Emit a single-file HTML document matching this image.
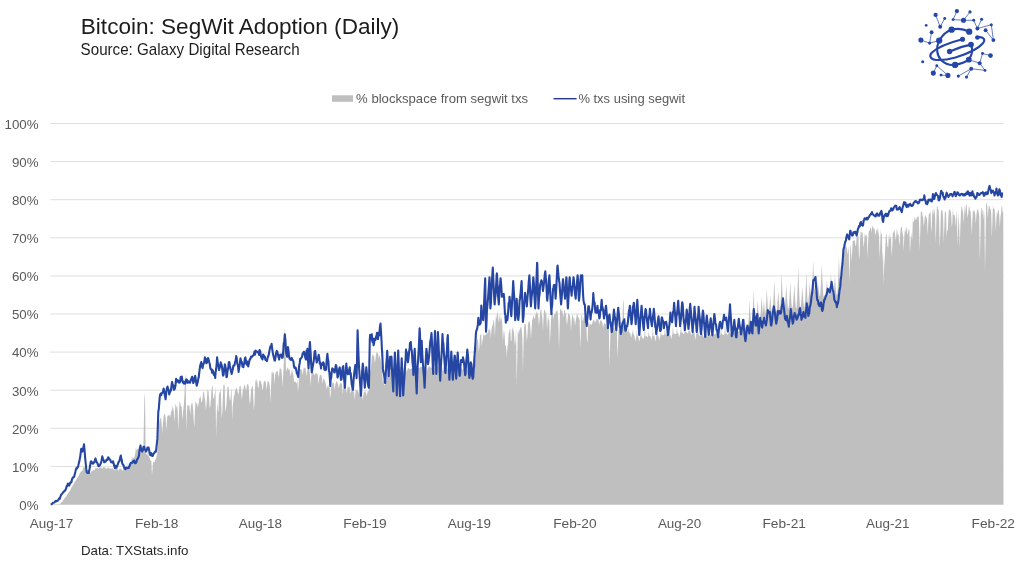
<!DOCTYPE html>
<html><head><meta charset="utf-8"><title>Bitcoin: SegWit Adoption (Daily)</title>
<style>
html,body{margin:0;padding:0;background:#fff;}
body{width:1024px;height:565px;overflow:hidden;}
svg{display:block;will-change:transform;font-family:"Liberation Sans",sans-serif;}
.ax text{font-size:13.3px;fill:#595959;}
.grid line{stroke:#dedede;stroke-width:1;}
</style></head><body>
<svg width="1024" height="565" viewBox="0 0 1024 565">
<rect width="1024" height="565" fill="#fff"/>
<text x="80.8" y="34.4" font-size="21.3" fill="#1c1c1c" textLength="318.5" lengthAdjust="spacingAndGlyphs">Bitcoin: SegWit Adoption (Daily)</text>
<text x="80.6" y="55.1" font-size="16.4" fill="#1c1c1c" textLength="219" lengthAdjust="spacingAndGlyphs">Source: Galaxy Digital Research</text>
<g class="logo"><polyline points="935.6,14.9 940.2,26.8 944.7,18.5" fill="none" stroke="#2545a8" stroke-width="0.7"/><polyline points="931.6,32.2 929.6,43.1" fill="none" stroke="#2545a8" stroke-width="0.7"/><polyline points="920.9,40.1 929.6,43.1 939.2,40.6" fill="none" stroke="#2545a8" stroke-width="0.7"/><polyline points="956.9,11.1 953.1,19.6 963.5,20.3 970,11.9" fill="none" stroke="#2545a8" stroke-width="0.7"/><polyline points="963.5,20.3 973.7,20.3 977.4,28.5 981.6,19.3" fill="none" stroke="#2545a8" stroke-width="0.7"/><polyline points="977.4,28.5 991.3,24.8 993.4,40.1 985.6,30.2" fill="none" stroke="#2545a8" stroke-width="0.7"/><polyline points="936.8,65.7 933.3,73.1" fill="none" stroke="#2545a8" stroke-width="0.7"/><polyline points="936.8,65.7 947.9,75.4 941,75.1" fill="none" stroke="#2545a8" stroke-width="0.7"/><polyline points="958.3,76.1 971.2,68.7 966.5,77.1" fill="none" stroke="#2545a8" stroke-width="0.7"/><polyline points="971.2,68.7 985,70.4 979.7,63.2 982.5,53.5 990.5,55.6" fill="none" stroke="#2545a8" stroke-width="0.7"/><polyline points="968.8,59.7 979.7,63.2" fill="none" stroke="#2545a8" stroke-width="0.7"/><g fill="none" stroke="#2545a8" stroke-width="2.1" stroke-linecap="round"><path d="M939.2,40.6 C943,34 947,31 951.6,29.7 C958,28 964,29 969.2,31.7"/><path d="M939.2,40.6 C936,47 936.5,55 941,60 C945,64 950,65.5 955.1,64.9 C960,64 965,62.5 968.8,59.7 C972,55 973,49 971,44.6"/><path d="M962.5,39.3 C950,42.5 938,47 932,52.5 C928.5,56 930.5,59.5 937,60 C948,60.5 963,56 974,50 C982,45.5 986,41 983.5,38.5 C982,37 979.5,37 977.4,37.5"/><path d="M949.6,51.5 C956,48.5 964,45.8 971,44.6"/></g><circle cx="935.6" cy="14.9" r="2.15" fill="#2545a8"/><circle cx="944.7" cy="18.5" r="1.45" fill="#2545a8"/><circle cx="940.2" cy="26.8" r="1.95" fill="#2545a8"/><circle cx="926.2" cy="25.3" r="1.35" fill="#2545a8"/><circle cx="931.6" cy="32.2" r="1.95" fill="#2545a8"/><circle cx="920.9" cy="40.1" r="2.55" fill="#2545a8"/><circle cx="929.6" cy="43.1" r="1.55" fill="#2545a8"/><circle cx="956.9" cy="11.1" r="2.15" fill="#2545a8"/><circle cx="953.1" cy="19.6" r="1.45" fill="#2545a8"/><circle cx="963.5" cy="20.3" r="2.55" fill="#2545a8"/><circle cx="970" cy="11.9" r="1.65" fill="#2545a8"/><circle cx="973.7" cy="20.3" r="1.45" fill="#2545a8"/><circle cx="981.6" cy="19.3" r="1.55" fill="#2545a8"/><circle cx="977.4" cy="28.5" r="1.95" fill="#2545a8"/><circle cx="991.3" cy="24.8" r="1.55" fill="#2545a8"/><circle cx="985.6" cy="30.2" r="1.95" fill="#2545a8"/><circle cx="993.4" cy="40.1" r="1.95" fill="#2545a8"/><circle cx="982.5" cy="53.5" r="1.45" fill="#2545a8"/><circle cx="990.5" cy="55.6" r="2.35" fill="#2545a8"/><circle cx="922.7" cy="61.7" r="1.55" fill="#2545a8"/><circle cx="936.8" cy="65.7" r="1.45" fill="#2545a8"/><circle cx="933.3" cy="73.1" r="2.55" fill="#2545a8"/><circle cx="941" cy="75.1" r="1.45" fill="#2545a8"/><circle cx="947.9" cy="75.4" r="2.55" fill="#2545a8"/><circle cx="958.3" cy="76.1" r="1.55" fill="#2545a8"/><circle cx="966.5" cy="77.1" r="1.55" fill="#2545a8"/><circle cx="971.2" cy="68.7" r="1.95" fill="#2545a8"/><circle cx="985" cy="70.4" r="1.45" fill="#2545a8"/><circle cx="979.7" cy="63.2" r="1.95" fill="#2545a8"/><circle cx="951.6" cy="29.7" r="3.15" fill="#2545a8"/><circle cx="969.2" cy="31.7" r="3.15" fill="#2545a8"/><circle cx="939.2" cy="40.6" r="3.15" fill="#2545a8"/><circle cx="962.5" cy="39.3" r="2.55" fill="#2545a8"/><circle cx="977.4" cy="37.5" r="2.35" fill="#2545a8"/><circle cx="971" cy="44.6" r="2.85" fill="#2545a8"/><circle cx="949.6" cy="51.5" r="2.65" fill="#2545a8"/><circle cx="955.1" cy="64.9" r="3.15" fill="#2545a8"/><circle cx="968.8" cy="59.7" r="2.85" fill="#2545a8"/></g>
<g class="ax">
<rect x="332" y="95.3" width="21" height="6.5" fill="#bfbfbf"/>
<text x="356.1" y="103.2" textLength="172" lengthAdjust="spacingAndGlyphs">% blockspace from segwit txs</text>
<line x1="553.5" x2="576.6" y1="98.7" y2="98.7" stroke="#2a3f8c" stroke-width="1.5"/>
<text x="578.4" y="103.2" textLength="106.6" lengthAdjust="spacingAndGlyphs">% txs using segwit</text>
</g>
<g class="grid"><line x1="50.5" x2="1003.5" y1="504.50" y2="504.50"/><line x1="50.5" x2="1003.5" y1="466.40" y2="466.40"/><line x1="50.5" x2="1003.5" y1="428.30" y2="428.30"/><line x1="50.5" x2="1003.5" y1="390.20" y2="390.20"/><line x1="50.5" x2="1003.5" y1="352.10" y2="352.10"/><line x1="50.5" x2="1003.5" y1="314.00" y2="314.00"/><line x1="50.5" x2="1003.5" y1="275.90" y2="275.90"/><line x1="50.5" x2="1003.5" y1="237.80" y2="237.80"/><line x1="50.5" x2="1003.5" y1="199.70" y2="199.70"/><line x1="50.5" x2="1003.5" y1="161.60" y2="161.60"/><line x1="50.5" x2="1003.5" y1="123.50" y2="123.50"/></g>
<path d="M50.5,504.5 L51.20,504.5 51.77,504.5 52.35,504.5 52.92,504.5 53.49,504.5 54.06,504.5 54.64,504.5 55.21,504.5 55.78,504.5 56.35,504.5 56.93,504.5 57.50,504.5 58.07,504.5 58.64,504.5 59.22,504.5 59.79,504.1 60.36,503.5 60.93,502.8 61.51,502.2 62.08,502.0 62.65,501.1 63.22,500.0 63.80,499.4 64.37,498.5 64.94,497.8 65.51,497.1 66.09,496.7 66.66,495.5 67.23,494.6 67.80,493.7 68.38,492.8 68.95,492.0 69.52,491.4 70.09,490.7 70.67,489.3 71.24,488.0 71.81,486.9 72.38,485.9 72.95,485.0 73.53,484.1 74.10,483.3 74.67,482.2 75.25,481.1 75.82,480.4 76.39,479.2 76.96,478.4 77.53,477.5 78.11,477.0 78.68,475.7 79.25,474.3 79.83,473.4 80.40,472.3 80.97,471.4 81.54,471.1 82.12,471.5 82.69,469.6 83.26,467.4 83.83,466.3 84.41,467.0 84.98,468.1 85.55,468.8 86.12,471.0 86.69,471.0 87.27,470.2 87.84,470.5 88.41,471.0 88.99,471.3 89.56,471.7 90.13,472.9 90.70,472.5 91.28,471.6 91.85,471.2 92.42,470.8 92.99,470.1 93.56,469.9 94.14,470.8 94.71,469.6 95.28,468.6 95.86,468.3 96.43,468.3 97.00,468.1 97.57,468.1 98.15,469.1 98.72,468.5 99.29,467.6 99.86,467.2 100.44,467.5 101.01,467.3 101.58,467.9 102.15,468.7 102.72,467.6 103.30,467.3 103.87,467.4 104.44,467.3 105.02,467.5 105.59,467.8 106.16,469.5 106.73,468.5 107.31,467.9 107.88,467.6 108.45,467.7 109.02,467.8 109.59,468.4 110.17,469.0 110.74,468.5 111.31,468.1 111.89,468.7 112.46,468.2 113.03,468.5 113.60,469.4 114.18,470.4 114.75,469.6 115.32,468.7 115.89,468.8 116.47,468.5 117.04,468.5 117.61,469.2 118.18,471.2 118.76,469.7 119.33,468.9 119.90,468.7 120.47,468.6 121.05,468.9 121.62,469.2 122.19,471.3 122.76,470.0 123.34,468.8 123.91,465.3 124.48,468.6 125.05,468.6 125.62,469.4 126.20,470.0 126.77,469.0 127.34,468.7 127.92,462.0 128.49,467.0 129.06,466.4 129.63,465.9 130.20,466.2 130.78,464.3 131.35,462.2 131.92,455.4 132.50,459.5 133.07,458.3 133.64,457.5 134.21,457.7 134.79,455.3 135.36,453.1 135.93,447.2 136.50,450.8 137.07,449.2 137.65,449.0 138.22,448.7 138.79,448.3 139.37,448.4 139.94,441.4 140.51,447.4 141.08,447.3 141.66,448.9 142.23,451.8 142.80,450.6 143.37,450.1 143.94,420.3 144.52,391.5 145.09,400.5 145.66,452.6 146.24,454.3 146.81,454.4 147.38,455.5 147.95,450.3 148.53,456.1 149.10,457.1 149.67,458.1 150.24,460.0 150.81,460.4 151.39,461.2 151.96,475.0 152.53,469.1 153.11,461.5 153.68,462.1 154.25,462.8 154.82,461.0 155.40,459.4 155.97,458.5 156.54,456.6 157.11,453.0 157.69,448.0 158.26,440.5 158.83,427.4 159.40,421.5 159.98,419.3 160.55,418.0 161.12,418.1 161.69,424.1 162.26,433.8 162.84,423.4 163.41,419.1 163.98,414.1 164.56,414.3 165.13,414.9 165.70,418.0 166.27,430.7 166.84,422.0 167.42,415.6 167.99,416.1 168.56,415.1 169.13,416.1 169.71,414.3 170.28,417.4 170.85,413.3 171.43,410.4 172.00,410.7 172.57,405.6 173.14,408.4 173.72,410.0 174.29,422.1 174.86,412.7 175.43,404.3 176.00,404.1 176.58,408.5 177.15,404.9 177.72,410.7 178.30,431.5 178.87,415.6 179.44,401.5 180.01,402.1 180.58,404.5 181.16,406.9 181.73,406.7 182.30,420.0 182.88,413.7 183.45,408.5 184.02,402.5 184.59,391.5 185.17,373.6 185.74,378.8 186.31,431.4 186.88,413.4 187.45,404.4 188.03,405.5 188.60,405.8 189.17,404.5 189.75,409.2 190.32,415.1 190.89,406.4 191.46,404.0 192.04,401.9 192.61,404.4 193.18,409.9 193.75,420.2 194.32,427.6 194.90,410.7 195.47,402.3 196.04,401.0 196.62,404.2 197.19,402.9 197.76,407.5 198.33,405.1 198.91,401.7 199.48,397.2 200.05,398.6 200.62,395.4 201.19,401.7 201.77,402.5 202.34,400.4 202.91,394.2 203.49,391.3 204.06,392.6 204.63,397.7 205.20,399.6 205.77,409.9 206.35,406.1 206.92,399.2 207.49,389.8 208.06,389.5 208.64,392.4 209.21,400.7 209.78,408.6 210.36,406.0 210.93,398.6 211.50,390.5 212.07,385.5 212.64,386.5 213.22,397.8 213.79,399.1 214.36,395.5 214.94,392.9 215.51,386.3 216.08,437.0 216.65,417.0 217.23,401.9 217.80,410.1 218.37,412.2 218.94,395.2 219.51,392.2 220.09,391.7 220.66,388.3 221.23,403.4 221.81,418.9 222.38,411.6 222.95,393.3 223.52,384.7 224.10,384.4 224.67,385.8 225.24,412.0 225.81,408.8 226.38,405.0 226.96,396.0 227.53,386.5 228.10,386.4 228.68,387.5 229.25,395.6 229.82,400.0 230.39,400.6 230.97,391.9 231.54,387.4 232.11,420.0 232.68,405.9 233.25,402.1 233.83,396.2 234.40,395.4 234.97,390.8 235.55,390.2 236.12,387.9 236.69,387.7 237.26,390.0 237.83,392.4 238.41,394.8 238.98,391.4 239.55,386.0 240.12,385.9 240.70,386.4 241.27,392.6 241.84,399.4 242.42,394.9 242.99,387.2 243.56,390.1 244.13,383.9 244.70,385.4 245.28,386.6 245.85,389.8 246.42,389.6 247.00,384.3 247.57,384.3 248.14,384.3 248.71,386.6 249.29,397.5 249.86,405.2 250.43,400.1 251.00,390.8 251.57,387.4 252.15,385.8 252.72,386.5 253.29,396.7 253.87,410.5 254.44,403.7 255.01,388.0 255.58,379.3 256.16,381.9 256.73,379.0 257.30,381.3 257.87,387.0 258.44,388.6 259.02,382.8 259.59,379.9 260.16,380.7 260.74,380.9 261.31,383.2 261.88,384.8 262.45,391.1 263.03,387.7 263.60,382.8 264.17,380.6 264.74,381.4 265.31,380.9 265.89,383.3 266.46,389.8 267.03,386.0 267.61,380.4 268.18,382.7 268.75,380.3 269.32,383.6 269.89,387.6 270.47,403.2 271.04,387.4 271.61,371.2 272.19,374.3 272.76,371.0 273.33,372.3 273.90,373.6 274.48,384.7 275.05,375.5 275.62,372.8 276.19,372.0 276.76,371.6 277.34,370.6 277.91,372.1 278.48,377.2 279.06,374.9 279.63,368.2 280.20,369.5 280.77,367.5 281.35,369.5 281.92,375.1 282.49,386.4 283.06,376.9 283.63,366.4 284.21,350.9 284.78,327.5 285.35,333.4 285.93,367.5 286.50,372.1 287.07,368.7 287.64,367.1 288.22,368.8 288.79,370.3 289.36,368.6 289.93,371.4 290.50,375.9 291.08,373.9 291.65,369.9 292.22,370.1 292.80,373.2 293.37,374.5 293.94,381.6 294.51,382.1 295.08,382.1 295.66,381.0 296.23,383.5 296.80,382.8 297.38,379.5 297.95,392.0 298.52,386.0 299.09,373.6 299.67,370.8 300.24,369.3 300.81,369.1 301.38,368.9 301.95,370.3 302.53,375.4 303.10,371.3 303.67,367.5 304.25,368.6 304.82,367.4 305.39,367.8 305.96,371.5 306.54,376.4 307.11,371.1 307.68,369.2 308.25,370.1 308.82,369.2 309.40,369.8 309.97,374.5 310.54,385.9 311.12,377.2 311.69,371.9 312.26,370.4 312.83,370.9 313.40,372.9 313.98,374.8 314.55,374.7 315.12,374.6 315.69,372.5 316.27,373.1 316.84,374.4 317.41,373.2 317.99,376.9 318.56,384.6 319.13,378.4 319.70,374.9 320.27,375.0 320.85,375.0 321.42,375.0 321.99,378.3 322.56,383.4 323.14,380.3 323.71,378.3 324.28,379.3 324.86,380.7 325.43,382.6 326.00,384.7 326.57,389.6 327.14,386.8 327.72,385.8 328.29,387.9 328.86,384.8 329.44,384.6 330.01,398.0 330.58,395.2 331.15,386.6 331.72,385.4 332.30,383.6 332.87,382.1 333.44,382.8 334.01,383.8 334.59,390.8 335.16,385.0 335.73,383.0 336.31,382.0 336.88,380.6 337.45,382.3 338.02,383.8 338.59,388.1 339.17,386.8 339.74,383.3 340.31,383.4 340.88,382.8 341.46,383.2 342.03,385.3 342.60,394.7 343.18,388.3 343.75,385.3 344.32,384.1 344.89,383.8 345.46,384.6 346.04,389.0 346.61,393.0 347.18,390.8 347.75,385.4 348.33,387.2 348.90,387.3 349.47,386.5 350.05,390.2 350.62,393.8 351.19,390.6 351.76,391.4 352.33,387.6 352.91,387.7 353.48,391.3 354.05,391.9 354.62,400.0 355.20,394.0 355.77,389.2 356.34,390.3 356.92,390.4 357.49,390.0 358.06,391.0 358.63,392.2 359.20,394.9 359.78,390.7 360.35,392.3 360.92,392.6 361.50,394.4 362.07,393.6 362.64,400.3 363.21,396.6 363.78,392.4 364.36,391.9 364.93,390.9 365.50,390.9 366.07,393.9 366.65,395.9 367.22,393.3 367.79,391.1 368.37,390.9 368.94,391.2 369.51,380.4 370.08,371.5 370.65,369.6 371.23,365.1 371.80,357.2 372.37,355.2 372.94,353.4 373.52,356.2 374.09,355.4 374.66,362.8 375.24,361.1 375.81,355.4 376.38,352.9 376.95,352.3 377.52,352.8 378.10,353.7 378.67,358.5 379.24,355.7 379.81,355.5 380.39,358.8 380.96,361.5 381.53,364.2 382.11,369.6 382.68,382.3 383.25,379.9 383.82,379.7 384.39,385.3 384.97,385.0 385.54,382.3 386.11,381.3 386.69,381.5 387.26,376.2 387.83,373.3 388.40,370.5 388.97,369.8 389.55,367.5 390.12,368.6 390.69,369.2 391.26,368.3 391.84,367.4 392.41,368.4 392.98,367.5 393.56,367.7 394.13,369.0 394.70,372.1 395.27,369.8 395.84,367.1 396.42,368.8 396.99,367.1 397.56,368.0 398.13,367.4 398.71,368.4 399.28,367.6 399.85,367.2 400.43,367.3 401.00,367.5 401.57,368.0 402.14,369.0 402.71,372.0 403.29,370.9 403.86,368.1 404.43,367.5 405.00,367.8 405.58,368.1 406.15,369.3 406.72,372.0 407.30,370.1 407.87,368.0 408.44,367.9 409.01,368.7 409.58,368.8 410.16,368.9 410.73,369.0 411.30,368.4 411.88,368.2 412.45,367.6 413.02,367.5 413.59,367.7 414.17,368.6 414.74,372.6 415.31,369.4 415.88,367.4 416.45,367.6 417.03,367.5 417.60,366.7 418.17,367.6 418.75,368.6 419.32,368.0 419.89,367.5 420.46,366.5 421.03,366.8 421.61,367.2 422.18,366.9 422.75,368.3 423.32,367.5 423.90,367.3 424.47,366.9 425.04,366.1 425.62,366.9 426.19,367.6 426.76,372.4 427.33,369.2 427.90,367.1 428.48,367.4 429.05,366.0 429.62,366.4 430.19,366.9 430.77,368.1 431.34,367.4 431.91,367.4 432.49,366.2 433.06,366.9 433.63,366.3 434.20,368.2 434.77,371.2 435.35,368.5 435.92,366.1 436.49,366.5 437.06,366.8 437.64,366.6 438.21,367.1 438.78,369.7 439.36,367.7 439.93,366.9 440.50,366.1 441.07,366.4 441.64,367.1 442.22,368.1 442.79,372.1 443.36,369.2 443.94,366.3 444.51,367.1 445.08,366.8 445.65,366.6 446.23,369.3 446.80,371.5 447.37,369.6 447.94,367.5 448.51,366.9 449.09,366.5 449.66,366.6 450.23,368.9 450.81,369.2 451.38,368.4 451.95,367.4 452.52,366.7 453.09,367.0 453.67,367.4 454.24,367.4 454.81,369.9 455.38,368.3 455.96,367.0 456.53,367.4 457.10,367.0 457.68,367.8 458.25,367.9 458.82,368.9 459.39,368.9 459.96,367.1 460.54,367.9 461.11,367.7 461.68,369.0 462.25,368.5 462.83,370.7 463.40,368.7 463.97,368.1 464.55,367.8 465.12,368.4 465.69,368.9 466.26,369.3 466.83,371.9 467.41,370.4 467.98,369.2 468.55,368.9 469.12,368.9 469.70,369.1 470.27,371.0 470.84,375.5 471.42,372.5 471.99,369.1 472.56,365.3 473.13,361.1 473.70,358.5 474.28,357.1 474.85,362.1 475.42,355.8 476.00,348.8 476.57,342.7 477.14,340.0 477.71,338.5 478.28,343.3 478.86,351.8 479.43,346.3 480.00,334.7 480.57,335.0 481.15,334.2 481.72,346.6 482.29,341.1 482.87,338.4 483.44,333.4 484.01,334.7 484.58,335.8 485.15,335.1 485.73,334.9 486.30,330.9 486.87,334.5 487.44,332.6 488.02,333.5 488.59,329.1 489.16,328.4 489.74,330.7 490.31,330.0 490.88,338.4 491.45,330.3 492.02,326.3 492.60,325.6 493.17,322.4 493.74,319.3 494.31,323.6 494.89,337.2 495.46,323.3 496.03,313.3 496.61,319.2 497.18,314.3 497.75,311.4 498.32,318.7 498.89,322.8 499.47,316.9 500.04,312.4 500.61,321.8 501.19,317.0 501.76,319.6 502.33,324.8 502.90,341.8 503.48,333.5 504.05,329.8 504.62,334.9 505.19,346.1 505.76,345.0 506.34,349.4 506.91,357.7 507.48,346.4 508.06,343.7 508.63,332.9 509.20,332.2 509.77,328.5 510.34,329.8 510.92,341.5 511.49,340.6 512.06,326.4 512.63,328.9 513.21,332.4 513.78,327.5 514.35,338.8 514.93,345.5 515.50,340.6 516.07,327.6 516.64,384.0 517.22,359.9 517.79,331.5 518.36,330.5 518.93,334.6 519.50,329.7 520.08,328.9 520.65,326.9 521.22,326.0 521.80,330.4 522.37,337.7 522.94,371.6 523.51,344.6 524.09,326.6 524.66,323.4 525.23,324.3 525.80,324.3 526.38,334.3 526.95,342.1 527.52,333.6 528.09,320.8 528.67,323.8 529.24,321.1 529.81,321.6 530.38,328.4 530.96,338.6 531.53,329.8 532.10,320.2 532.67,319.3 533.25,314.8 533.82,317.7 534.39,317.6 534.96,319.8 535.53,314.1 536.11,313.9 536.68,310.9 537.25,312.7 537.83,314.6 538.40,317.6 538.97,326.1 539.54,319.9 540.12,313.3 540.69,308.6 541.26,308.9 541.83,315.3 542.40,318.3 542.98,330.8 543.55,317.2 544.12,309.1 544.70,310.1 545.27,314.2 545.84,310.1 546.41,315.4 546.99,330.1 547.56,321.8 548.13,314.1 548.70,320.4 549.27,319.0 549.85,345.0 550.42,332.7 550.99,319.4 551.57,315.4 552.14,312.2 552.71,312.7 553.28,319.9 553.86,314.9 554.43,314.3 555.00,314.3 555.57,313.1 556.14,311.3 556.72,311.1 557.29,310.0 557.86,313.5 558.44,324.4 559.01,349.8 559.58,327.1 560.15,307.8 560.73,309.5 561.30,311.5 561.87,308.3 562.44,311.8 563.01,314.8 563.59,317.3 564.16,310.3 564.73,309.9 565.31,313.1 565.88,313.5 566.45,319.9 567.02,325.5 567.60,320.0 568.17,313.3 568.74,313.5 569.31,315.8 569.89,313.8 570.46,320.3 571.03,331.4 571.60,321.4 572.18,315.8 572.75,314.1 573.32,319.2 573.89,317.2 574.47,320.2 575.04,325.7 575.61,321.3 576.18,318.8 576.76,313.5 577.33,313.8 577.90,316.9 578.47,317.0 579.05,319.1 579.62,319.2 580.19,348.6 580.76,334.3 581.34,314.3 581.91,314.8 582.48,320.6 583.05,321.0 583.62,318.0 584.20,315.4 584.77,318.2 585.34,319.2 585.92,321.1 586.49,325.9 587.06,342.7 587.63,339.7 588.21,322.2 588.78,321.7 589.35,326.9 589.92,322.0 590.50,324.2 591.07,323.7 591.64,325.4 592.21,323.6 592.79,321.5 593.36,319.1 593.93,321.2 594.50,320.2 595.08,323.3 595.65,321.2 596.22,319.2 596.79,319.2 597.37,318.9 597.94,319.6 598.51,319.9 599.08,325.0 599.66,322.6 600.23,320.7 600.80,319.6 601.37,320.7 601.95,321.7 602.52,322.9 603.09,328.0 603.66,325.3 604.24,322.5 604.81,323.2 605.38,324.4 605.95,324.1 606.53,326.4 607.10,327.7 607.67,327.1 608.24,325.8 608.82,323.6 609.39,366.2 609.96,348.7 610.53,328.0 611.11,331.5 611.68,329.1 612.25,327.6 612.82,323.9 613.40,327.7 613.97,328.0 614.54,328.6 615.11,332.8 615.69,329.7 616.26,328.6 616.83,324.1 617.40,358.4 617.98,345.0 618.55,329.1 619.12,330.9 619.69,329.1 620.27,327.2 620.84,319.8 621.41,327.8 621.98,327.3 622.56,316.1 623.13,299.0 623.70,303.6 624.27,327.4 624.85,324.7 625.42,329.6 625.99,330.4 626.56,331.6 627.14,330.8 627.71,332.1 628.28,331.4 628.85,326.9 629.43,333.4 630.00,332.7 630.57,334.3 631.14,338.1 631.72,335.1 632.29,333.0 632.86,329.3 633.43,334.5 634.01,334.5 634.58,336.5 635.15,341.9 635.72,338.5 636.30,336.4 636.87,329.8 637.44,335.1 638.01,336.5 638.59,337.4 639.16,342.0 639.73,339.2 640.30,336.4 640.88,328.2 641.45,336.4 642.02,336.7 642.59,338.0 643.17,339.6 643.74,337.9 644.31,336.1 644.88,327.3 645.46,336.5 646.03,335.9 646.60,336.1 647.17,337.2 647.75,337.2 648.32,335.2 648.89,330.8 649.46,336.0 650.04,336.3 650.61,336.3 651.18,340.1 651.75,338.1 652.33,335.4 652.90,326.7 653.47,336.3 654.04,335.5 654.62,336.5 655.19,341.7 655.76,338.7 656.33,334.8 656.91,330.9 657.48,335.2 658.05,335.3 658.62,336.3 659.20,340.7 659.77,337.8 660.34,336.2 660.91,329.7 661.49,334.5 662.06,335.6 662.63,334.7 663.20,335.5 663.78,335.1 664.35,334.5 664.92,326.9 665.49,334.6 666.07,334.6 666.64,334.5 667.21,335.2 667.78,334.9 668.36,335.2 668.93,329.7 669.50,334.0 670.07,334.2 670.65,336.1 671.22,339.3 671.79,335.9 672.36,334.2 672.94,325.2 673.51,333.4 674.08,333.9 674.65,333.5 675.23,334.0 675.80,333.9 676.37,334.1 676.94,327.5 677.52,332.9 678.09,333.0 678.66,334.8 679.23,337.3 679.81,334.7 680.38,332.6 680.95,324.5 681.52,332.3 682.10,332.6 682.67,332.6 683.24,333.9 683.81,333.7 684.39,332.9 684.96,322.3 685.53,331.9 686.10,332.2 686.68,332.0 687.25,333.2 687.82,333.2 688.39,332.1 688.97,321.4 689.54,331.2 690.11,331.2 690.68,333.1 691.26,335.0 691.83,334.0 692.40,331.3 692.97,325.8 693.55,332.0 694.12,332.0 694.69,333.7 695.26,340.2 695.84,336.0 696.41,332.7 696.98,324.5 697.55,332.7 698.12,332.3 698.70,334.1 699.27,336.3 699.84,335.2 700.42,332.6 700.99,321.9 701.56,332.7 702.13,332.5 702.71,333.8 703.28,338.2 703.85,335.8 704.42,332.8 705.00,326.4 705.57,333.8 706.14,332.9 706.71,335.2 707.29,337.0 707.86,335.3 708.43,333.7 709.00,326.5 709.58,333.4 710.15,334.0 710.72,334.7 711.29,337.8 711.87,335.4 712.44,333.9 713.01,324.4 713.58,333.7 714.16,334.4 714.73,334.1 715.30,334.1 715.87,333.9 716.45,334.5 717.02,327.1 717.59,333.8 718.16,334.0 718.74,335.1 719.31,336.1 719.88,335.3 720.45,334.4 721.03,324.8 721.60,333.9 722.17,334.2 722.74,334.5 723.32,335.0 723.89,334.8 724.46,334.1 725.03,322.0 725.61,333.4 726.18,333.3 726.75,333.6 727.32,334.8 727.90,334.5 728.47,333.0 729.04,321.9 729.61,333.2 730.19,333.0 730.76,333.5 731.33,335.1 731.90,333.7 732.48,332.3 733.05,325.0 733.62,332.3 734.19,332.2 734.77,332.5 735.34,333.6 735.91,332.4 736.48,331.8 737.06,322.6 737.63,331.9 738.20,331.1 738.77,331.3 739.35,332.1 739.92,330.8 740.49,330.4 741.06,321.8 741.64,329.5 742.21,329.6 742.78,329.2 743.35,329.9 743.93,329.3 744.50,328.6 745.07,321.2 745.64,327.8 746.22,327.8 746.79,329.4 747.36,331.0 747.93,328.6 748.51,321.1 749.08,311.8 749.65,300.0 750.22,311.8 750.80,321.1 751.37,328.0 751.94,326.0 752.51,317.1 753.09,305.0 753.66,289.4 754.23,305.0 754.80,317.1 755.38,326.0 755.95,324.2 756.52,317.3 757.09,309.7 757.67,300.0 758.24,309.7 758.81,317.3 759.38,322.2 759.96,321.1 760.53,314.3 761.10,306.3 761.67,296.0 762.25,306.3 762.82,314.3 763.39,308.2 763.96,300.0 764.54,308.2 765.11,314.5 765.68,310.0 766.25,300.3 766.83,287.8 767.40,300.3 767.97,310.0 768.54,314.0 769.12,309.8 769.69,303.4 770.26,295.0 770.83,303.4 771.41,309.8 771.98,313.8 772.55,313.0 773.12,306.1 773.70,294.6 774.27,279.8 774.84,294.6 775.41,306.1 775.99,313.7 776.56,311.7 777.13,306.9 777.70,299.5 778.28,290.0 778.85,299.5 779.42,306.9 779.99,312.0 780.57,302.3 781.14,288.9 781.71,271.8 782.28,288.9 782.86,302.3 783.43,309.8 784.00,309.5 784.57,309.3 785.15,304.3 785.72,295.4 786.29,284.0 786.86,295.4 787.44,304.3 788.01,308.5 788.58,308.6 789.15,302.9 789.73,293.5 790.30,281.4 790.87,293.5 791.44,302.9 792.02,308.4 792.59,307.7 793.16,303.2 793.73,294.8 794.31,284.0 794.88,294.8 795.45,303.2 796.02,309.1 796.60,307.4 797.17,299.2 797.74,284.8 798.31,266.3 798.89,284.8 799.46,299.2 800.03,308.0 800.60,306.9 801.18,302.7 801.75,295.4 802.32,286.0 802.89,295.4 803.47,302.7 804.04,308.1 804.61,306.3 805.18,299.6 805.76,287.5 806.33,271.8 806.90,287.5 807.47,299.6 808.05,305.0 808.62,297.5 809.19,290.7 809.76,282.0 810.34,290.7 810.91,297.5 811.48,298.3 812.05,287.5 812.63,275.8 813.20,260.7 813.77,275.8 814.34,287.5 814.92,291.0 815.49,292.7 816.06,292.2 816.63,291.2 817.21,286.7 817.78,281.0 818.35,286.7 818.92,291.2 819.50,296.3 820.07,296.3 820.64,289.5 821.21,278.3 821.79,263.9 822.36,278.3 822.93,289.5 823.50,297.1 824.08,296.3 824.65,294.8 825.22,295.1 825.79,292.0 826.37,287.2 826.94,281.0 827.51,287.2 828.08,292.0 828.66,294.6 829.23,295.1 829.80,291.7 830.37,283.7 830.95,273.4 831.52,283.7 832.09,291.7 832.66,295.5 833.24,295.6 833.81,292.3 834.38,284.7 834.95,275.0 835.53,284.7 836.10,292.3 836.67,294.8 837.24,294.5 837.82,286.4 838.39,273.1 838.96,255.9 839.53,273.1 840.11,286.4 840.68,287.7 841.25,283.0 841.82,277.1 842.40,270.2 842.97,263.4 843.54,259.2 844.11,253.5 844.69,247.5 845.26,245.8 845.83,245.5 846.40,247.6 846.98,247.7 847.55,255.0 848.12,250.2 848.69,246.2 849.27,283.0 849.84,264.7 850.41,243.7 850.98,247.4 851.56,261.9 852.13,252.3 852.70,240.9 853.27,240.9 853.85,240.2 854.42,240.1 854.99,241.7 855.56,246.2 856.14,245.0 856.71,235.7 857.28,235.4 857.85,236.4 858.43,235.4 859.00,260.0 859.57,255.0 860.14,239.5 860.72,231.6 861.29,231.5 861.86,233.5 862.43,231.8 863.01,239.0 863.58,247.5 864.15,242.6 864.72,233.7 865.30,235.0 865.87,236.4 866.44,233.7 867.01,239.0 867.59,258.4 868.16,240.9 868.73,231.2 869.30,230.9 869.88,229.3 870.45,228.0 871.02,227.2 871.59,233.3 872.17,226.6 872.74,225.7 873.31,229.2 873.88,227.8 874.46,228.4 875.03,232.7 875.60,235.4 876.17,231.7 876.75,228.7 877.32,231.7 877.89,227.0 878.46,233.3 879.04,235.7 879.61,258.1 880.18,246.3 880.75,229.1 881.33,235.5 881.90,232.0 882.47,262.0 883.04,250.7 883.62,285.0 884.19,265.9 884.76,258.0 885.33,246.3 885.91,234.3 886.48,233.6 887.05,241.3 887.62,247.0 888.20,247.6 888.77,235.1 889.34,240.1 889.91,232.7 890.49,237.9 891.06,239.0 891.63,256.6 892.20,248.0 892.78,233.1 893.35,232.7 893.92,230.8 894.49,229.7 895.07,234.6 895.64,240.4 896.21,237.1 896.78,228.5 897.36,231.2 897.93,235.8 898.50,233.4 899.07,241.3 899.65,245.7 900.22,234.0 900.79,227.4 901.36,227.0 901.94,227.4 902.51,232.7 903.08,235.8 903.65,251.0 904.23,238.0 904.80,229.4 905.37,233.0 905.94,227.3 906.52,227.6 907.09,232.0 907.66,235.4 908.23,231.2 908.81,228.4 909.38,230.0 909.95,254.0 910.52,243.0 911.10,231.7 911.67,238.0 912.24,239.7 912.81,219.7 913.39,221.9 913.96,222.3 914.53,216.8 915.10,218.3 915.68,219.9 916.25,220.1 916.82,216.4 917.39,216.8 917.97,217.6 918.54,214.5 919.11,225.7 919.68,250.6 920.26,232.0 920.83,211.3 921.40,212.7 921.97,210.3 922.55,216.0 923.12,216.8 923.69,226.1 924.26,223.0 924.84,216.5 925.41,215.0 925.98,216.6 926.55,217.4 927.13,220.1 927.70,235.6 928.27,222.0 928.84,213.9 929.42,213.0 929.99,214.0 930.56,210.1 931.13,232.5 931.71,225.7 932.28,213.0 932.85,208.5 933.42,215.5 934.00,208.2 934.57,210.3 935.14,217.8 935.71,243.2 936.29,223.4 936.86,205.8 937.43,206.4 938.00,209.5 938.58,209.5 939.15,221.0 939.72,248.6 940.29,232.4 940.87,212.5 941.44,209.7 942.01,210.3 942.58,210.7 943.16,219.6 943.73,242.8 944.30,227.3 944.87,211.2 945.45,213.0 946.02,209.4 946.59,238.0 947.16,229.6 947.74,231.0 948.31,217.9 948.88,210.0 949.45,209.2 950.03,209.7 950.60,211.0 951.17,213.8 951.74,227.3 952.32,223.0 952.89,207.4 953.46,214.9 954.03,214.7 954.61,215.4 955.18,217.5 955.75,226.8 956.32,217.7 956.90,208.5 957.47,246.0 958.04,228.9 958.61,211.9 959.19,225.4 959.76,248.1 960.33,227.9 960.90,213.9 961.48,206.1 962.05,207.3 962.62,210.2 963.19,212.7 963.77,224.3 964.34,212.0 964.91,204.3 965.48,214.1 966.06,203.6 966.63,204.9 967.20,213.7 967.77,218.2 968.35,211.8 968.92,206.1 969.49,207.3 970.06,211.2 970.64,210.8 971.21,220.8 971.78,235.0 972.35,220.2 972.93,210.0 973.50,210.6 974.07,212.5 974.64,209.7 975.22,214.6 975.79,223.7 976.36,216.0 976.93,210.8 977.51,209.2 978.08,209.3 978.65,212.3 979.22,215.7 979.80,260.0 980.37,240.5 980.94,209.0 981.51,207.3 982.09,215.9 982.66,209.9 983.23,209.7 983.80,220.0 984.38,211.0 984.95,271.5 985.52,243.8 986.09,202.5 986.67,203.7 987.24,205.4 987.81,218.6 988.38,209.8 988.96,205.6 989.53,205.9 990.10,208.8 990.67,209.1 991.25,213.6 991.82,238.2 992.39,222.8 992.96,204.3 993.54,209.4 994.11,207.7 994.68,209.9 995.25,219.1 995.83,231.6 996.40,218.0 996.97,210.7 997.54,215.1 998.12,210.3 998.69,209.3 999.26,215.7 999.83,227.9 1000.41,217.4 1000.98,213.7 1001.55,206.3 1002.12,206.4 1002.70,212.7 1003.27,212.5 L1003.5,504.5 Z" fill="#bfbfbf"/>
<polyline points="50.70,504.5 51.27,504.3 51.84,504.1 52.42,503.3 52.99,502.8 53.56,502.8 54.13,502.6 54.60,502.2 55.28,501.3 55.85,500.9 56.42,501.3 57.00,500.8 57.57,500.9 58.14,500.3 58.50,499.6 59.29,498.2 59.86,498.7 60.43,496.4 61.00,495.2 61.58,494.1 62.15,493.8 62.40,493.4 62.72,493.1 63.29,492.1 63.87,491.6 64.44,491.1 65.01,490.6 65.30,489.9 65.58,489.9 66.16,488.2 66.73,485.9 67.30,486.0 67.87,483.6 68.20,483.7 68.45,484.1 69.20,485.6 69.59,484.7 70.17,482.9 70.74,482.1 71.31,482.5 72.10,478.8 72.46,478.9 73.03,477.2 73.60,477.2 74.10,476.9 74.75,474.2 75.32,472.1 76.00,469.1 76.46,468.1 77.04,468.4 77.61,467.0 78.00,467.1 78.75,463.4 79.33,461.4 79.90,458.4 80.47,455.0 81.04,450.1 81.30,448.7 81.62,450.1 82.40,451.6 82.76,450.7 83.33,447.8 84.00,444.4 84.48,449.5 85.20,458.4 85.62,462.5 86.20,468.4 86.70,472.0 87.34,472.7 87.91,472.9 88.70,473.0 89.06,471.3 89.63,468.4 90.20,465.0 90.78,461.8 91.00,461.3 91.35,461.3 91.92,462.4 92.49,463.5 93.07,463.6 93.50,463.3 94.21,462.1 94.78,460.6 95.50,458.4 95.93,460.0 96.50,462.2 97.07,462.4 97.65,463.7 98.40,466.2 98.79,466.0 99.36,465.8 99.94,465.2 100.30,464.2 101.08,462.8 101.65,460.1 102.30,456.4 102.80,458.5 103.37,459.8 103.94,460.9 104.20,462.3 104.52,461.9 105.09,461.7 105.66,461.6 106.20,460.3 106.81,459.6 107.38,459.8 107.95,457.6 108.50,457.4 109.10,459.3 109.67,459.5 110.24,459.5 111.00,462.3 111.39,462.3 111.96,462.2 112.53,462.6 113.00,461.3 113.68,463.6 114.25,466.0 115.00,468.1 115.39,465.9 115.97,467.4 116.54,467.7 117.11,466.0 117.90,464.2 118.26,462.8 118.83,461.6 119.40,461.5 119.97,458.4 120.55,456.3 120.80,455.5 121.12,458.1 121.69,459.5 122.26,463.6 122.70,464.2 123.41,465.0 123.98,466.9 124.55,468.4 125.13,468.8 125.60,469.1 126.27,467.5 126.84,468.1 127.42,468.0 127.99,467.9 128.60,468.1 129.13,466.5 129.71,465.9 130.28,463.9 130.50,463.3 130.85,462.8 131.42,462.8 132.00,462.6 132.57,462.6 133.14,461.1 133.40,461.3 133.71,461.2 134.29,460.5 134.86,463.1 135.43,463.2 136.00,462.1 136.30,462.3 136.58,461.2 137.15,459.2 137.72,459.0 138.30,457.4 138.87,456.0 139.44,451.2 140.20,446.7 140.58,445.6 141.16,450.2 141.73,450.6 142.20,451.6 142.87,450.0 143.45,447.0 144.10,446.7 144.59,448.8 145.16,449.8 145.74,450.6 146.10,451.6 146.88,449.9 147.45,447.5 148.00,447.7 148.60,447.6 149.17,450.3 149.74,453.8 150.00,453.5 150.32,455.1 150.89,453.1 151.46,453.2 152.03,455.7 152.61,456.0 152.90,455.5 153.18,454.3 153.75,453.7 154.32,453.0 154.90,451.8 155.47,451.4 155.80,451.6 156.04,450.8 156.61,445.8 157.40,438.9 157.76,428.0 158.30,411.7 158.80,409.0 159.48,400.1 159.70,397.3 160.05,395.2 160.62,393.6 161.19,395.2 161.70,393.4 162.34,392.8 162.91,392.0 163.60,388.6 164.05,390.1 164.63,394.2 165.20,396.6 165.60,399.3 166.34,391.9 166.92,388.4 167.50,386.6 168.06,388.7 168.63,389.8 169.21,394.4 169.50,393.4 169.78,392.7 170.35,391.4 170.92,390.4 171.50,385.6 172.07,382.0 172.40,383.7 172.64,385.5 173.21,385.2 173.79,389.8 174.30,389.5 174.93,388.2 175.50,385.3 176.08,378.8 176.30,380.8 176.65,381.9 177.22,380.1 177.79,380.2 178.37,380.8 178.94,382.7 179.20,381.7 179.51,382.5 180.08,381.8 180.66,377.1 181.10,378.8 181.80,376.6 182.37,380.7 182.95,382.7 183.52,381.7 184.10,383.7 184.66,383.3 185.24,383.6 185.81,380.2 186.38,379.4 187.00,379.8 187.53,382.8 188.10,382.5 188.67,381.3 189.24,382.4 189.90,382.7 190.39,381.8 190.96,379.7 191.53,378.1 191.80,377.9 192.11,376.7 192.68,378.6 193.25,383.0 193.80,381.7 194.40,379.3 194.97,376.5 195.20,375.9 195.54,378.2 196.11,382.3 196.70,385.6 197.26,383.7 197.83,381.6 198.40,377.9 198.70,377.9 198.98,374.8 199.55,370.3 200.12,366.1 200.60,364.2 201.27,362.1 201.84,366.2 202.60,368.1 202.98,365.4 203.56,363.8 204.13,362.6 204.90,357.4 205.27,358.7 205.85,360.2 206.40,363.3 206.99,362.6 207.56,358.6 207.80,358.4 208.14,358.0 208.71,360.1 209.28,362.5 209.85,364.3 210.30,368.1 211.00,369.5 211.57,369.4 212.14,372.7 212.72,370.3 213.30,372.0 213.86,374.9 214.43,373.2 215.20,377.9 215.58,372.4 216.15,369.0 216.72,363.4 217.10,357.4 217.87,363.8 218.44,365.4 219.10,370.1 219.59,367.8 220.16,366.3 220.73,362.3 221.00,364.2 221.30,364.0 221.88,366.0 222.45,370.9 223.02,375.6 223.60,374.9 224.17,369.7 224.90,364.2 225.31,366.2 225.88,369.0 226.46,377.1 226.90,376.9 227.60,370.4 228.17,368.5 228.80,362.3 229.32,362.0 229.89,365.9 230.46,368.7 231.04,371.4 231.70,374.0 232.18,371.4 232.75,369.6 233.33,366.0 233.70,365.2 234.47,365.4 235.04,362.1 235.62,360.7 236.19,356.1 236.60,357.4 237.33,364.0 237.91,365.0 238.60,372.0 239.05,368.2 239.62,365.3 240.20,360.4 240.50,358.4 240.77,359.5 241.34,362.8 241.91,362.0 242.49,366.7 243.06,364.9 243.40,367.1 243.63,364.6 244.20,364.3 244.78,358.8 245.40,357.4 245.92,360.9 246.49,363.7 247.07,361.5 247.30,365.2 247.64,365.3 248.21,366.3 248.78,364.1 249.36,360.7 249.93,359.0 250.20,359.4 250.50,358.6 251.07,356.5 251.65,357.1 252.22,356.5 252.79,355.8 253.20,355.5 253.94,354.2 254.51,351.5 255.08,354.6 255.65,350.5 256.10,351.6 256.80,351.7 257.37,351.7 258.00,352.5 258.52,351.6 259.09,354.9 259.66,350.0 260.00,350.6 260.23,351.4 260.81,355.7 261.38,357.4 261.90,358.4 262.52,359.3 263.10,354.5 263.67,355.8 264.24,357.0 264.80,356.4 265.39,359.9 265.96,360.0 266.53,360.3 266.80,361.3 267.10,360.2 267.68,357.6 268.25,356.1 268.82,354.6 269.10,352.5 269.39,350.9 269.97,348.2 270.54,346.1 271.11,347.2 271.60,343.8 272.26,349.5 272.83,352.9 273.60,356.4 273.97,357.6 274.55,360.5 274.90,360.6 275.69,356.2 276.26,352.5 276.80,350.9 277.41,352.1 277.98,354.7 278.55,357.5 278.80,357.7 279.13,359.5 279.70,355.5 280.27,354.7 280.70,355.7 281.42,354.7 281.99,357.7 282.70,357.7 283.13,352.7 283.71,343.6 284.28,341.2 284.80,334.3 285.42,340.4 286.00,352.1 286.50,354.8 287.14,356.8 287.90,347.0 288.29,349.3 288.86,354.2 289.50,358.7 290.00,358.8 290.58,359.8 291.15,360.0 291.72,357.9 292.40,359.6 292.87,360.5 293.44,361.3 294.01,366.8 294.30,366.4 294.58,368.0 295.16,368.2 295.73,367.7 296.30,370.3 296.87,373.2 297.45,374.2 298.20,377.1 298.59,373.4 299.16,365.7 299.74,362.9 300.20,358.7 300.88,358.6 301.45,357.7 302.10,356.7 302.60,353.6 303.17,353.4 303.74,351.8 304.10,351.8 304.89,355.5 305.46,358.4 306.00,359.6 306.61,350.6 307.18,351.3 307.40,348.9 307.75,354.8 308.50,368.4 308.90,362.5 309.47,347.3 309.90,342.1 310.61,352.6 311.19,364.3 311.80,372.3 312.33,369.0 312.90,365.6 313.48,362.3 313.80,360.6 314.05,357.8 314.62,351.7 315.20,350.9 315.77,357.0 316.34,359.6 316.70,362.5 317.48,359.8 318.06,358.3 318.70,354.8 319.20,357.7 319.77,363.7 320.35,362.5 321.00,368.4 321.49,364.0 322.06,365.1 322.64,363.9 323.21,362.3 323.50,363.5 323.78,363.2 324.35,369.7 324.93,368.0 325.50,370.3 326.07,369.3 326.64,360.2 327.40,353.8 327.79,358.1 328.36,361.0 328.93,371.0 329.40,372.3 330.08,381.5 330.30,385.9 330.65,379.8 331.22,378.0 331.80,370.9 332.30,368.4 332.94,369.0 333.51,369.7 334.20,372.3 334.66,372.5 335.23,368.9 335.80,365.1 336.20,365.5 336.95,370.2 337.52,377.5 338.10,376.2 338.67,371.6 339.24,368.6 339.70,367.4 340.38,372.2 341.00,380.0 341.53,379.2 342.10,372.5 342.67,367.6 343.00,366.4 343.25,366.1 343.82,376.0 344.39,382.0 344.90,387.8 345.54,374.6 346.30,363.5 346.68,368.0 347.25,371.1 347.90,374.2 348.40,371.8 348.97,371.0 349.54,368.3 349.80,367.4 350.12,374.5 350.69,372.9 351.26,379.4 351.70,384.0 352.41,387.6 352.70,389.8 352.98,389.6 353.55,380.4 354.30,372.3 354.70,369.8 355.27,365.1 355.60,366.4 355.84,367.3 356.60,378.1 356.99,360.9 357.60,330.4 358.13,345.8 358.70,359.6 359.10,368.4 359.85,379.2 360.42,387.9 360.90,395.6 361.57,383.6 362.14,371.9 362.80,363.5 363.28,368.3 363.86,377.6 364.43,381.8 364.80,387.8 365.57,376.6 366.30,367.4 366.72,371.7 367.29,378.0 367.90,384.0 368.44,386.7 368.90,387.8 369.80,339.2 370.15,334.9 370.73,339.8 371.30,335.5 371.80,334.3 372.44,341.9 373.02,338.6 373.59,345.3 374.10,343.1 374.73,338.7 375.31,340.0 375.88,338.6 376.10,336.3 376.45,336.6 377.02,332.7 377.60,337.8 378.00,339.2 378.74,332.5 379.00,333.4 379.31,335.3 379.89,327.1 380.50,323.6 381.03,332.6 381.60,341.9 381.90,348.9 382.18,352.6 382.90,368.4 383.32,371.8 383.89,373.6 384.47,378.2 385.20,383.0 385.61,377.5 386.18,365.5 386.76,358.5 387.20,350.9 387.90,361.6 388.47,372.9 388.70,376.2 389.05,368.7 389.62,368.8 390.10,356.7 390.76,357.3 391.34,356.5 391.60,358.4 391.91,367.9 392.48,378.6 393.05,387.4 393.30,391.5 393.63,380.5 394.20,368.5 394.90,352.5 395.34,361.4 395.92,372.9 396.49,385.8 396.80,395.4 397.06,385.3 397.63,368.7 398.20,350.6 398.78,364.6 399.35,384.5 400.10,396.3 400.50,384.6 401.07,374.1 401.70,358.4 402.21,370.8 402.79,387.5 403.20,395.4 403.93,383.5 404.60,374.0 405.08,365.5 405.65,358.5 406.00,349.6 406.22,352.8 406.79,352.0 407.37,357.8 407.90,362.3 408.51,358.4 409.08,351.8 409.66,347.9 410.00,342.8 410.23,343.7 410.80,342.1 411.37,349.8 411.80,350.6 412.52,362.7 413.09,367.4 413.40,374.9 413.66,369.7 414.24,356.5 414.70,348.7 415.38,364.7 415.95,377.5 416.70,393.4 417.10,380.3 417.67,365.3 418.20,358.4 418.82,347.5 419.60,328.2 419.96,333.5 420.53,352.9 420.80,362.3 421.11,355.9 421.70,340.9 422.25,353.5 422.82,362.0 423.10,366.2 423.40,370.9 423.97,376.3 424.60,387.6 425.11,375.7 425.69,362.4 426.40,348.7 426.83,352.0 427.40,359.2 428.00,364.2 428.55,361.2 429.12,355.7 429.50,351.6 430.27,341.2 430.84,339.0 431.50,333.1 431.98,342.5 432.56,361.3 433.20,374.0 433.70,362.8 434.27,347.7 435.00,331.1 435.42,349.5 435.99,361.3 436.30,374.0 436.56,369.1 437.14,350.8 437.90,332.1 438.28,338.4 438.85,351.4 439.43,366.5 440.20,380.8 440.57,371.4 441.14,361.6 441.72,352.1 442.50,334.1 442.86,340.4 443.43,344.5 444.01,355.0 444.58,362.0 445.15,371.2 445.50,373.0 445.72,370.1 446.30,357.2 446.87,351.8 447.44,338.5 447.80,335.0 448.59,360.4 449.16,374.4 449.40,379.8 449.73,373.6 450.30,369.0 450.88,358.2 451.30,351.6 452.02,363.6 452.59,377.5 452.90,379.8 453.17,375.3 453.74,368.1 454.31,358.9 454.60,355.5 454.88,355.9 455.46,366.9 456.20,378.8 456.60,372.2 457.17,361.3 457.70,352.5 458.32,362.4 458.89,368.0 459.46,375.4 459.70,375.9 460.04,374.7 460.61,364.0 461.00,360.3 461.75,359.9 462.33,362.1 463.00,357.4 463.47,360.0 464.04,362.8 464.62,369.4 465.19,375.2 465.50,374.0 465.76,369.8 466.33,360.0 466.91,355.0 467.30,349.6 468.05,356.3 468.62,369.4 469.40,377.9 469.77,375.3 470.34,364.5 470.80,362.3 471.49,365.1 472.06,375.6 472.70,378.8 473.20,377.3 473.78,368.3 474.10,366.2 474.35,358.3 474.92,350.9 475.49,341.8 475.80,335.6 476.07,332.0 476.64,330.0 477.21,328.6 477.80,324.9 478.36,317.8 478.93,323.2 479.50,324.7 480.07,324.1 480.70,323.0 481.30,305.5 481.79,314.9 482.36,315.4 482.94,318.8 483.20,320.1 483.51,316.0 484.08,303.7 484.65,289.8 485.20,278.2 486.00,331.7 486.37,325.9 486.94,310.4 487.50,304.5 488.09,297.5 488.66,288.9 489.23,281.4 489.50,277.2 489.81,289.3 490.40,308.4 490.95,302.4 491.52,287.9 492.10,278.6 492.80,267.5 493.24,277.7 493.81,289.0 494.39,301.6 494.70,304.5 494.96,299.8 495.53,295.3 496.10,285.7 496.68,274.3 496.90,273.4 497.25,278.8 497.82,293.0 498.39,299.6 498.80,304.5 499.54,288.5 500.11,283.7 500.60,278.2 501.26,285.6 501.83,296.8 502.10,294.8 502.40,296.2 502.97,294.9 503.70,293.8 504.12,297.8 504.69,308.9 505.00,314.2 505.26,313.8 505.84,322.7 506.41,316.8 506.98,317.8 507.40,320.1 508.13,312.2 508.70,303.0 509.27,302.0 509.50,296.7 509.84,299.8 510.42,303.8 510.99,313.5 511.30,316.2 511.56,312.4 512.13,300.1 512.71,291.7 513.20,281.1 513.85,291.9 514.42,300.6 515.20,320.1 515.57,314.5 516.14,309.3 516.70,298.7 517.29,309.5 517.86,318.2 518.30,320.1 519.00,313.5 519.58,300.8 520.00,298.7 520.72,291.6 521.29,284.3 521.60,281.1 521.87,288.6 522.44,305.2 522.90,322.0 523.58,315.6 524.16,304.5 524.73,298.8 525.10,292.8 525.87,299.5 526.45,301.4 526.80,306.4 527.59,296.5 528.16,290.7 528.74,281.9 529.40,275.3 529.88,284.6 530.45,299.4 530.90,306.4 531.60,297.2 532.17,292.6 532.74,285.6 533.30,277.2 533.89,283.6 534.46,297.0 535.20,308.4 535.61,301.1 536.18,286.5 536.75,272.4 537.10,262.7 537.32,264.7 537.90,290.0 538.50,308.4 539.04,297.8 539.61,294.1 540.10,285.0 540.76,282.9 541.33,280.3 541.60,281.1 541.90,281.1 542.48,286.3 543.00,290.9 543.62,286.0 544.19,281.2 544.77,274.6 545.30,271.4 545.91,279.2 546.48,286.9 547.06,298.9 547.30,300.6 547.63,296.1 548.20,291.5 548.77,280.4 549.40,275.3 549.92,285.4 550.49,297.9 551.06,307.5 551.40,314.2 551.64,308.8 552.21,304.7 552.78,292.7 553.10,288.9 553.35,288.0 553.93,285.0 554.70,285.0 555.07,289.9 555.60,298.7 556.22,289.2 556.79,277.6 557.36,266.6 557.60,265.6 557.93,269.6 558.51,275.9 559.08,280.7 559.50,283.1 560.22,294.0 560.80,301.2 561.10,304.5 561.37,301.5 561.94,294.2 562.51,285.0 563.00,279.2 563.66,287.5 564.23,290.2 565.00,298.7 565.38,292.2 565.95,283.4 566.30,277.2 566.52,277.8 567.09,291.3 567.67,305.1 567.90,308.4 568.24,302.2 568.81,292.8 569.38,280.1 569.70,277.2 569.96,281.6 570.53,288.9 571.10,290.4 571.60,295.7 572.25,287.0 572.82,285.6 573.50,277.2 573.96,280.1 574.54,289.8 575.11,294.5 575.70,298.7 576.25,288.3 576.83,284.6 577.60,275.3 577.97,279.5 578.54,294.3 579.00,300.6 579.69,293.5 580.26,282.3 580.90,275.3 581.41,277.2 581.98,277.3 582.30,275.3 582.55,283.1 583.12,295.1 583.50,300.6 584.27,304.2 584.84,304.5 585.20,310.3 585.99,322.6 586.56,322.6 586.80,325.9 587.13,320.6 587.70,315.4 588.30,306.4 588.85,306.3 589.42,310.5 589.99,312.5 590.30,316.2 590.57,319.5 591.14,312.4 591.60,312.5 592.28,308.5 592.86,302.0 593.30,293.1 594.00,302.9 594.57,302.4 595.15,309.5 595.40,312.5 595.72,310.0 596.29,308.9 596.86,312.8 597.40,305.7 598.01,310.9 598.58,311.1 599.30,318.4 599.73,317.7 600.30,309.7 600.87,310.4 601.44,302.0 601.70,299.9 602.02,305.1 602.59,307.7 603.16,310.5 603.73,315.5 604.00,318.4 604.31,316.2 604.88,314.0 605.45,309.4 606.00,305.7 606.60,312.4 607.17,318.6 607.90,328.1 608.31,323.0 608.89,316.8 609.50,314.5 610.03,320.4 610.60,323.0 611.18,326.9 611.80,332.0 612.32,328.5 612.89,321.5 613.47,315.7 613.90,309.6 614.61,315.2 615.18,319.0 615.76,325.3 616.30,330.1 616.90,322.3 617.47,315.9 618.20,307.7 618.62,311.4 619.19,316.8 619.76,326.1 620.34,328.6 620.80,334.0 621.48,330.9 622.05,325.5 622.63,322.6 623.10,322.3 623.77,320.8 624.34,319.3 624.92,327.8 625.49,330.8 626.00,330.1 626.63,325.7 627.21,326.3 627.90,322.3 628.35,316.8 628.92,311.4 629.50,308.7 629.90,305.7 630.64,316.0 631.21,320.6 631.50,324.2 631.79,322.1 632.36,315.6 632.93,306.7 633.50,305.2 633.80,302.8 634.08,303.3 634.65,312.4 635.22,317.2 635.70,324.2 636.37,313.7 636.94,306.9 637.30,299.9 638.08,312.4 638.66,324.9 639.20,334.9 639.80,328.5 640.37,319.2 640.95,313.4 641.60,305.7 642.09,313.3 642.66,318.3 643.24,325.7 643.50,328.1 643.81,330.0 644.38,318.6 644.95,314.9 645.53,309.1 645.90,309.6 646.67,318.1 647.24,322.0 648.00,328.1 648.39,320.3 648.96,316.6 649.53,315.2 649.90,308.7 650.68,317.2 651.25,322.2 651.90,326.2 652.40,321.6 652.97,316.4 653.54,312.7 653.80,308.7 654.11,311.7 654.69,318.7 655.26,326.9 655.83,328.0 656.20,334.0 656.98,329.1 657.55,323.2 658.12,319.0 658.50,316.4 659.27,324.2 659.84,327.8 660.10,331.0 660.41,330.9 660.98,329.5 661.56,318.4 662.00,317.4 662.70,320.6 663.27,321.6 663.60,324.2 663.85,328.1 664.42,324.5 664.99,322.3 665.56,323.5 665.90,322.3 666.14,321.8 666.71,324.6 667.28,328.4 667.85,335.2 668.40,333.0 669.00,327.7 669.57,323.6 670.14,316.5 670.40,312.5 670.72,318.0 671.29,318.5 671.86,321.2 672.10,322.3 672.43,318.8 673.01,311.8 673.58,311.0 674.10,302.8 674.72,310.3 675.30,316.6 676.00,326.2 676.44,316.9 677.01,313.8 677.59,308.2 678.20,300.9 678.73,309.6 679.30,315.3 679.88,322.0 680.10,326.2 680.45,323.2 681.02,318.1 681.59,309.3 682.17,302.3 682.40,302.8 682.74,304.7 683.31,315.2 683.88,321.6 684.46,324.5 684.80,330.1 685.03,327.8 685.60,323.0 686.17,317.8 686.70,309.6 687.32,314.3 687.89,322.1 688.46,328.8 688.70,326.2 689.04,324.0 689.61,310.5 690.20,303.8 690.75,309.8 691.33,316.9 691.90,322.5 692.60,332.0 693.04,326.1 693.62,321.8 694.19,312.1 694.50,306.7 694.76,310.5 695.33,316.4 695.91,321.5 696.48,329.0 696.70,332.0 697.05,329.6 697.62,321.2 698.20,315.7 698.60,306.7 699.34,315.5 699.91,319.3 700.49,329.8 700.90,334.0 701.63,328.3 702.20,317.6 702.90,310.6 703.35,313.2 703.92,321.4 704.49,327.1 705.20,336.9 705.64,331.5 706.21,321.2 706.80,315.5 707.36,321.1 707.93,326.1 708.70,334.9 709.07,332.9 709.65,326.7 710.22,322.6 710.70,318.4 711.36,324.4 711.94,330.7 712.30,335.4 713.08,328.2 713.65,321.6 714.30,314.0 714.80,317.2 715.37,322.7 715.94,324.5 716.20,325.6 716.52,329.8 717.09,330.3 717.66,334.2 718.20,337.3 718.81,330.6 719.38,324.3 720.10,321.7 720.52,323.4 721.10,325.6 721.67,328.5 722.10,327.6 722.81,321.0 723.39,319.8 724.00,314.9 724.53,319.0 725.10,320.1 725.68,319.2 726.00,317.9 726.25,317.6 726.82,322.8 727.39,328.2 727.90,331.5 728.54,324.1 729.11,317.0 729.68,309.8 730.00,304.2 730.26,309.2 730.83,317.4 731.40,327.7 731.80,336.3 732.55,333.8 733.12,330.4 733.69,325.6 734.30,319.8 734.84,325.7 735.41,331.0 735.98,336.9 736.30,337.3 736.55,337.0 737.13,328.4 737.70,328.7 738.27,323.4 738.80,318.8 739.42,323.9 739.99,327.4 740.56,330.7 741.10,334.4 741.71,330.2 742.28,326.8 742.85,321.5 743.10,319.8 743.42,320.0 744.00,329.0 744.57,334.8 745.14,339.1 745.40,341.2 745.71,339.5 746.29,333.6 746.86,328.6 747.40,325.6 748.00,327.4 748.58,330.8 749.30,333.4 749.72,331.6 750.29,326.4 750.90,321.7 751.44,326.1 752.01,331.7 752.40,333.4 753.16,319.8 753.80,309.1 754.30,314.4 754.87,317.4 755.45,324.6 755.70,325.6 756.02,325.7 756.59,318.8 757.30,314.0 757.74,320.5 758.31,327.6 758.70,333.4 759.45,324.1 760.20,317.9 760.60,321.4 761.17,320.9 761.74,326.8 762.20,327.6 762.89,321.5 763.46,323.2 764.10,317.9 764.61,322.1 765.18,322.9 765.90,325.6 766.32,323.0 766.90,319.4 767.47,313.4 767.80,310.1 768.04,311.3 768.61,311.3 769.19,313.3 769.80,312.0 770.33,318.5 770.90,324.6 771.30,325.6 772.05,320.5 772.62,314.5 773.19,310.4 773.80,306.2 774.34,309.6 774.91,312.8 775.48,318.4 776.20,323.7 776.63,321.6 777.20,318.7 777.77,311.1 778.10,312.0 778.35,314.4 778.92,312.0 779.49,311.2 780.06,312.1 780.64,313.6 781.00,313.0 781.78,306.7 782.35,303.4 783.00,298.4 783.50,303.8 784.07,309.2 784.64,314.6 784.90,317.9 785.22,319.0 785.79,319.9 786.36,318.1 786.90,315.9 787.51,321.8 788.08,322.0 788.80,326.6 789.22,321.9 789.80,318.6 790.37,313.8 790.80,309.1 791.51,314.3 792.09,318.8 792.70,323.7 793.23,322.4 793.80,317.0 794.38,314.5 794.70,313.0 794.95,313.6 795.52,314.8 796.09,317.6 796.60,319.8 797.24,318.6 797.81,317.1 798.60,314.0 798.96,315.0 799.53,309.1 800.10,308.1 800.67,313.7 801.25,316.9 801.50,319.8 801.82,318.1 802.39,317.5 802.96,313.9 803.40,312.0 804.11,316.3 804.68,316.1 805.40,317.9 805.83,312.0 806.40,308.0 806.70,303.3 806.97,305.2 807.54,308.3 808.30,315.9 808.69,314.4 809.26,313.3 809.83,306.2 810.20,306.2 810.98,301.6 811.55,296.1 812.20,292.5 812.70,287.2 813.27,280.8 813.50,279.9 813.84,280.1 814.41,280.0 814.99,278.3 815.50,277.0 816.13,287.6 816.70,294.0 817.00,298.4 817.28,300.2 817.85,299.9 818.42,304.2 819.00,305.2 819.57,306.2 820.14,303.5 820.90,302.3 821.28,303.8 821.86,309.5 822.30,311.0 823.00,308.8 823.57,303.5 823.90,302.3 824.15,299.8 824.72,299.7 825.29,297.7 825.80,296.4 826.44,294.8 827.01,293.1 827.80,288.7 828.15,291.0 828.73,291.1 829.30,290.3 829.70,292.5 830.44,287.8 831.02,286.1 831.60,281.8 832.16,285.6 832.73,290.4 833.31,291.5 833.60,294.5 833.88,295.5 834.45,300.1 835.02,301.0 835.50,302.3 836.17,302.0 836.90,307.1 837.31,303.9 837.89,303.7 838.60,298.8 839.03,294.8 839.60,290.1 840.30,286.4 840.75,280.0 841.32,275.4 841.80,269.1 842.47,263.7 843.04,255.5 843.50,249.2 844.18,246.7 844.76,243.8 845.30,241.8 845.90,240.5 846.47,236.8 847.20,234.4 847.62,236.1 848.19,236.7 848.76,238.5 849.20,239.3 849.91,232.9 850.20,230.7 850.48,230.7 851.05,234.2 851.63,234.2 852.20,235.6 852.77,235.3 853.34,232.3 853.92,233.1 854.70,231.9 855.06,232.1 855.63,231.8 856.21,234.1 856.60,235.6 857.35,232.3 857.92,228.8 858.40,228.2 859.07,225.9 859.64,226.7 860.21,223.1 860.90,222.0 861.36,225.0 861.93,223.8 862.60,225.7 863.08,225.2 863.65,220.4 864.22,219.8 864.60,218.3 865.37,219.3 865.94,219.0 866.51,217.9 867.00,219.5 867.66,219.3 868.23,217.4 868.80,217.4 869.50,215.8 869.95,215.1 870.52,214.7 871.09,213.6 871.66,214.0 872.00,212.1 872.24,213.5 872.81,214.2 873.38,214.9 873.95,215.2 874.50,215.8 875.10,216.3 875.67,216.5 876.24,214.3 877.00,213.3 877.39,213.7 877.96,215.6 878.53,215.2 879.11,214.5 879.40,215.8 879.68,214.9 880.25,212.9 880.82,212.1 881.40,210.9 881.97,213.7 882.54,219.9 883.10,222.0 883.69,217.9 884.26,216.2 884.90,214.6 885.40,214.4 885.98,213.7 886.55,216.3 887.12,214.0 887.40,215.8 887.69,215.9 888.27,214.8 888.84,212.5 889.41,211.0 889.80,210.9 890.56,210.8 891.13,208.2 891.70,208.8 892.27,210.5 892.85,209.6 893.10,209.6 893.42,208.7 893.99,207.2 894.56,206.6 895.14,205.7 895.50,205.9 896.28,205.8 896.85,209.5 897.43,209.3 898.00,209.6 898.57,209.0 899.14,207.5 899.70,207.1 900.29,209.1 900.86,210.0 901.43,211.3 901.70,212.1 902.01,211.1 902.58,207.4 903.15,206.0 903.72,203.4 904.20,202.2 904.87,204.1 905.44,202.7 906.01,205.5 906.70,207.1 907.16,205.3 907.73,204.9 908.30,206.6 908.88,204.9 909.20,204.7 909.45,204.3 910.02,203.8 910.59,205.5 911.17,204.9 911.74,206.0 912.10,205.9 912.88,205.4 913.46,203.5 914.03,202.4 914.60,202.1 915.30,201.0 915.75,201.6 916.32,201.4 916.89,202.3 917.46,202.5 917.80,203.4 918.04,202.4 918.61,202.4 919.18,202.6 919.75,200.0 920.30,199.7 920.90,200.0 921.47,199.7 922.04,200.2 922.40,199.5 923.19,199.8 923.76,199.4 924.33,195.3 924.80,198.7 925.48,200.9 926.05,203.6 926.62,201.8 927.20,204.2 927.77,202.9 928.34,199.9 928.80,199.5 929.49,200.4 930.06,199.6 930.63,199.6 931.10,201.1 931.78,201.5 932.35,199.6 932.70,196.3 932.92,194.1 933.49,195.6 934.07,199.0 934.30,198.7 934.64,197.4 935.21,194.9 935.90,193.1 936.36,193.9 936.93,194.9 937.50,195.5 938.07,196.1 938.65,200.3 939.10,200.3 939.79,198.3 940.36,195.2 940.94,191.9 941.20,190.7 941.51,191.6 942.08,192.9 942.65,192.5 943.10,195.5 943.80,197.7 944.37,197.0 944.70,199.5 944.94,197.1 945.52,197.7 946.30,193.9 946.66,192.7 947.23,195.3 947.81,195.4 948.38,197.0 948.70,196.3 948.95,195.7 949.52,195.3 950.10,194.1 950.67,194.5 951.10,193.9 951.81,194.4 952.60,196.3 952.96,194.6 953.53,194.6 954.20,192.3 954.68,191.9 955.25,194.0 955.80,196.3 956.39,194.3 956.97,194.0 957.40,192.3 958.11,192.7 958.68,194.8 959.26,195.3 959.80,195.5 960.40,194.3 960.97,194.5 961.70,193.9 962.12,193.9 962.69,194.1 963.26,195.5 963.80,195.5 964.41,194.2 964.98,195.2 965.55,195.0 966.20,193.1 966.70,192.5 967.27,194.0 967.84,191.2 968.60,193.9 968.99,194.4 969.56,195.6 970.13,192.7 970.71,194.7 971.00,193.1 971.28,195.5 971.85,195.3 972.42,191.2 973.00,194.9 973.40,193.9 974.14,196.7 974.71,196.9 975.40,198.7 975.86,197.1 976.43,197.2 977.00,194.8 977.30,193.1 977.58,193.0 978.15,194.1 978.72,194.9 979.29,195.0 979.70,194.7 980.44,193.6 981.01,193.1 981.58,193.0 982.10,193.1 982.73,192.2 983.30,192.9 983.87,195.8 984.50,195.5 985.02,193.1 985.59,193.3 986.10,192.3 986.74,194.2 987.31,193.1 987.70,193.9 988.45,190.2 989.03,187.4 989.60,185.9 990.17,188.8 990.74,189.7 991.30,193.1 991.89,192.0 992.46,191.3 992.90,190.7 993.61,192.0 994.18,193.4 994.50,195.5 994.75,194.0 995.32,193.5 996.10,190.7 996.47,188.5 997.04,193.7 997.61,194.5 998.00,195.5 998.76,193.3 999.33,189.2 999.60,191.5 999.90,190.6 1000.48,194.9 1001.20,195.5 1001.62,197.0 1002.19,193.3 1002.80,193.1" fill="none" stroke="#2646a3" stroke-width="2.1" stroke-linejoin="round"/>
<g class="ax"><text x="38.5" y="509.8" text-anchor="end">0%</text><text x="38.5" y="471.7" text-anchor="end">10%</text><text x="38.5" y="433.6" text-anchor="end">20%</text><text x="38.5" y="395.5" text-anchor="end">30%</text><text x="38.5" y="357.4" text-anchor="end">40%</text><text x="38.5" y="319.3" text-anchor="end">50%</text><text x="38.5" y="281.2" text-anchor="end">60%</text><text x="38.5" y="243.1" text-anchor="end">70%</text><text x="38.5" y="205.0" text-anchor="end">80%</text><text x="38.5" y="166.9" text-anchor="end">90%</text><text x="38.5" y="128.8" text-anchor="end">100%</text><text x="29.8" y="527.6" textLength="43.4" lengthAdjust="spacingAndGlyphs">Aug-17</text><text x="135.0" y="527.6" textLength="43.4" lengthAdjust="spacingAndGlyphs">Feb-18</text><text x="238.7" y="527.6" textLength="43.4" lengthAdjust="spacingAndGlyphs">Aug-18</text><text x="343.3" y="527.6" textLength="43.4" lengthAdjust="spacingAndGlyphs">Feb-19</text><text x="447.7" y="527.6" textLength="43.4" lengthAdjust="spacingAndGlyphs">Aug-19</text><text x="553.2" y="527.6" textLength="43.4" lengthAdjust="spacingAndGlyphs">Feb-20</text><text x="657.9" y="527.6" textLength="43.4" lengthAdjust="spacingAndGlyphs">Aug-20</text><text x="762.5" y="527.6" textLength="43.4" lengthAdjust="spacingAndGlyphs">Feb-21</text><text x="866.1" y="527.6" textLength="43.4" lengthAdjust="spacingAndGlyphs">Aug-21</text><text x="971.6" y="527.6" textLength="43.4" lengthAdjust="spacingAndGlyphs">Feb-22</text></g>
<text x="80.9" y="555.4" font-size="13.3" fill="#262626" textLength="107.6" lengthAdjust="spacingAndGlyphs">Data: TXStats.info</text>
</svg>
</body></html>
